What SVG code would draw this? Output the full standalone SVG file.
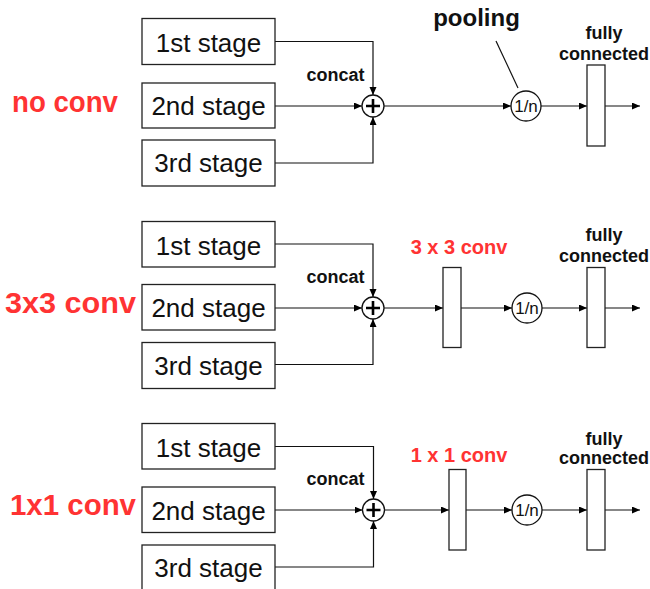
<svg xmlns="http://www.w3.org/2000/svg" width="650" height="589" viewBox="0 0 650 589">
<defs>
<marker id="arr" markerUnits="userSpaceOnUse" markerWidth="9" markerHeight="8" refX="8" refY="3.5" orient="auto">
<path d="M0,0 L8,3.5 L0,7 z" fill="#000"/>
</marker>
<style>
.box{fill:#fff;stroke:#222;stroke-width:1.3}
.bar{fill:#fff;stroke:#222;stroke-width:1.3}
.ln{fill:none;stroke:#111;stroke-width:1.2}
.ar{fill:none;stroke:#111;stroke-width:1.2;marker-end:url(#arr)}
.circ{fill:#fff;stroke:#111;stroke-width:1.3}
.plus{stroke:#000;stroke-width:2.6;fill:none}
.stg{font-family:"Liberation Sans",Arial,sans-serif;font-size:26px;fill:#111;text-anchor:middle}
.bl{font-family:"Liberation Sans",Arial,sans-serif;font-weight:bold;font-size:18px;fill:#111;text-anchor:middle}
.pool{font-family:"Liberation Sans",Arial,sans-serif;font-weight:bold;font-size:24px;fill:#111;text-anchor:middle}
.red{font-family:"Liberation Sans",Arial,sans-serif;font-weight:bold;fill:#ff3333}
.side{font-size:29px}
.cv{font-size:20px;text-anchor:middle}
.pn{font-family:"Liberation Sans",Arial,sans-serif;font-size:17px;fill:#111;text-anchor:middle}
</style>
</defs>
<rect width="650" height="589" fill="#fff"/>

<!-- connectors -->
<g id="connectors">
<!-- section 1 -->
<path class="ar" d="M275,41.5 H373 V95"/>
<path class="ar" d="M275,106 H362"/>
<path class="ar" d="M275,163 H373 V117"/>
<path class="ar" d="M384,106 H511"/>
<path class="ar" d="M541,106 H587"/>
<path class="ar" d="M605,106 H640"/>
<path class="ln" d="M496,41 L518,88"/>
<!-- section 2 -->
<path class="ar" d="M275,244 H373 V297"/>
<path class="ar" d="M275,308 H362"/>
<path class="ar" d="M275,364.5 H373 V319"/>
<path class="ar" d="M384,308 H443"/>
<path class="ar" d="M461,308 H512"/>
<path class="ar" d="M542,308 H587"/>
<path class="ar" d="M605,308 H640"/>
<!-- section 3 -->
<path class="ar" d="M275,446.5 H373.5 V499"/>
<path class="ar" d="M275,510 H362.5"/>
<path class="ar" d="M275,567 H373.5 V521"/>
<path class="ar" d="M384.5,510 H449"/>
<path class="ar" d="M466,510 H512"/>
<path class="ar" d="M542,510 H587"/>
<path class="ar" d="M605,510 H640"/>
</g>

<!-- section 1 -->
<text class="red side" x="12" y="112" textLength="106" lengthAdjust="spacingAndGlyphs">no conv</text>
<g id="s1-stage1"><rect class="box" x="142" y="18.5" width="133" height="46"/><text class="stg" x="208.5" y="52">1st stage</text></g>
<g id="s1-stage2"><rect class="box" x="142" y="83" width="133" height="45"/><text class="stg" x="208.5" y="115">2nd stage</text></g>
<g id="s1-stage3"><rect class="box" x="142" y="140" width="133" height="46"/><text class="stg" x="208.5" y="172">3rd stage</text></g>
<g id="s1-concat"><circle class="circ" cx="373" cy="106" r="11"/><path class="plus" d="M366,106 H380 M373,99 V113"/><text class="bl" x="335.5" y="81">concat</text></g>
<g id="s1-pool"><circle class="circ" cx="526" cy="106" r="15"/><text class="pn" x="526" y="112">1/n</text></g>
<text class="pool" x="476.5" y="26">pooling</text>
<g id="s1-fc"><rect class="bar" x="587" y="65" width="18" height="81"/><text class="bl" x="604" y="39">fully</text><text class="bl" x="604" y="60">connected</text></g>

<!-- section 2 -->
<text class="red side" x="5" y="313" textLength="131" lengthAdjust="spacingAndGlyphs">3x3 conv</text>
<g id="s2-stage1"><rect class="box" x="142" y="221.5" width="133" height="45.5"/><text class="stg" x="208.5" y="254.5">1st stage</text></g>
<g id="s2-stage2"><rect class="box" x="142" y="284.5" width="133" height="45.5"/><text class="stg" x="208.5" y="317">2nd stage</text></g>
<g id="s2-stage3"><rect class="box" x="142" y="342.5" width="133" height="46"/><text class="stg" x="208.5" y="374.5">3rd stage</text></g>
<g id="s2-concat"><circle class="circ" cx="373" cy="308" r="11"/><path class="plus" d="M366,308 H380 M373,301 V315"/><text class="bl" x="335.5" y="283">concat</text></g>
<g id="s2-conv"><rect class="bar" x="443" y="267.5" width="18" height="80"/><text class="red cv" x="459" y="254">3 x 3 conv</text></g>
<g id="s2-pool"><circle class="circ" cx="527" cy="308" r="15"/><text class="pn" x="527" y="314">1/n</text></g>
<g id="s2-fc"><rect class="bar" x="587" y="267.5" width="18" height="80"/><text class="bl" x="604" y="241">fully</text><text class="bl" x="604" y="262">connected</text></g>

<!-- section 3 -->
<text class="red side" x="10" y="515" textLength="126" lengthAdjust="spacingAndGlyphs">1x1 conv</text>
<g id="s3-stage1"><rect class="box" x="142" y="423.5" width="133" height="45.5"/><text class="stg" x="208.5" y="456.5">1st stage</text></g>
<g id="s3-stage2"><rect class="box" x="142" y="487" width="133" height="45.5"/><text class="stg" x="208.5" y="519.5">2nd stage</text></g>
<g id="s3-stage3"><rect class="box" x="142" y="545" width="133" height="46"/><text class="stg" x="208.5" y="577">3rd stage</text></g>
<g id="s3-concat"><circle class="circ" cx="373.5" cy="510" r="11"/><path class="plus" d="M366.5,510 H380.5 M373.5,503 V517"/><text class="bl" x="335.5" y="485">concat</text></g>
<g id="s3-conv"><rect class="bar" x="449" y="469.5" width="17" height="80.5"/><text class="red cv" x="459" y="461.5">1 x 1 conv</text></g>
<g id="s3-pool"><circle class="circ" cx="527" cy="510" r="15"/><text class="pn" x="527" y="516">1/n</text></g>
<g id="s3-fc"><rect class="bar" x="587" y="469.5" width="18" height="80.5"/><text class="bl" x="604" y="445">fully</text><text class="bl" x="604" y="464">connected</text></g>
</svg>
